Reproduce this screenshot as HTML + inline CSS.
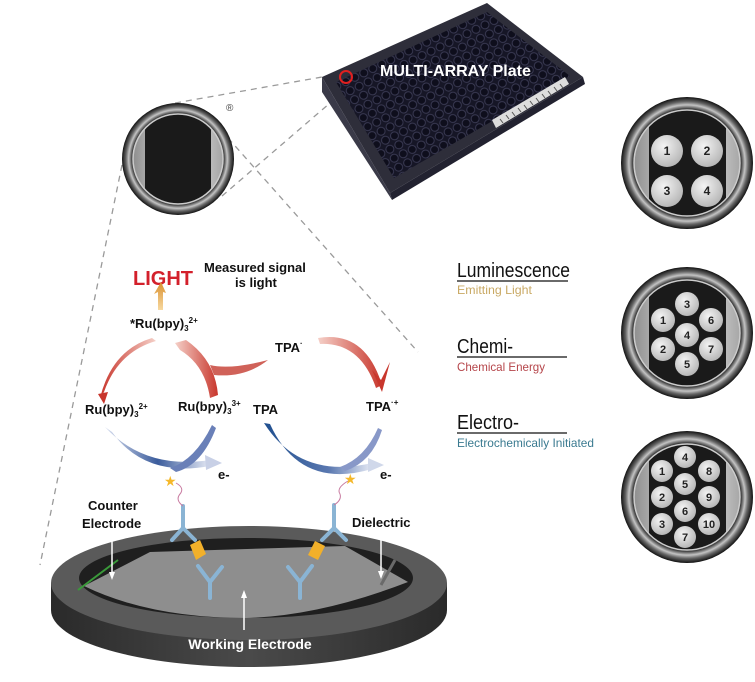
<!DOCTYPE html>
<html><head><meta charset="utf-8"><style>
html,body{margin:0;padding:0;background:#fff;width:755px;height:682px;overflow:hidden}
svg{display:block}
text{font-family:"Liberation Sans",sans-serif}
</style></head><body>
<svg width="755" height="682" viewBox="0 0 755 682">
<defs>
<radialGradient id="rim" cx="50%" cy="50%" r="50%">
<stop offset="0.8" stop-color="#111"/><stop offset="0.88" stop-color="#c4c4c4"/><stop offset="0.93" stop-color="#666"/><stop offset="1" stop-color="#111"/>
</radialGradient>
<linearGradient id="band" x1="0" x2="1"><stop offset="0" stop-color="#888"/><stop offset="0.5" stop-color="#eee"/><stop offset="1" stop-color="#999"/></linearGradient>
<radialGradient id="spot" cx="40%" cy="35%" r="65%"><stop offset="0" stop-color="#f4f4f4"/><stop offset="1" stop-color="#b8b8b8"/></radialGradient>
<linearGradient id="up" x1="0" y1="1" x2="0" y2="0"><stop offset="0" stop-color="#f7d9a0"/><stop offset="1" stop-color="#d9902e"/></linearGradient>
<linearGradient id="rd" x1="0" x2="1"><stop offset="0" stop-color="#f5d0c8"/><stop offset="1" stop-color="#c8362c"/></linearGradient>
<linearGradient id="rd2" x1="1" x2="0"><stop offset="0" stop-color="#f5d0c8"/><stop offset="1" stop-color="#c8362c"/></linearGradient>
<linearGradient id="bl" x1="0" x2="1"><stop offset="0" stop-color="#d8dff0"/><stop offset="0.5" stop-color="#3b5c9c"/><stop offset="1" stop-color="#e6eaf5"/></linearGradient>
<linearGradient id="bl2" x1="0" x2="1"><stop offset="0" stop-color="#1f4f8f"/><stop offset="0.6" stop-color="#5a78b0"/><stop offset="1" stop-color="#e6eaf5"/></linearGradient>
<linearGradient id="side" x1="0" x2="1"><stop offset="0" stop-color="#2a2a2a"/><stop offset="0.5" stop-color="#4a4a4a"/><stop offset="1" stop-color="#2a2a2a"/></linearGradient>
<pattern id="wells" width="10" height="10" patternUnits="userSpaceOnUse" patternTransform="rotate(-26)">
<rect width="10" height="10" fill="#161626"/><circle cx="5" cy="5" r="4" fill="#0e0e1c" stroke="#3c3c56" stroke-width="0.9"/></pattern>
</defs>

<g stroke="#9a9a9a" stroke-width="1.3" stroke-dasharray="6,5" fill="none">
<line x1="175" y1="103" x2="322" y2="77"/>
<line x1="222" y1="196" x2="330" y2="103"/>
<line x1="228" y1="138" x2="418" y2="352"/>
<line x1="122" y1="165" x2="40" y2="565"/>
</g>

<!-- plate -->
<polygon points="322,77 487,3 583,77 390,193" fill="#2e2e3a"/>
<polygon points="336,82 487,12 570,76 394,178" fill="url(#wells)"/>
<polygon points="322,77 390,193 392,200 322,92" fill="#3a3a48"/>
<polygon points="390,193 583,77 585,84 392,200" fill="#222230"/>
<polygon points="492,120 565,77 569,84 496,128" fill="#ddd"/>
<g stroke="#555" stroke-width="1">
<line x1="500" y1="119" x2="503" y2="123"/><line x1="506" y1="115" x2="509" y2="119"/><line x1="512" y1="112" x2="515" y2="116"/><line x1="518" y1="108" x2="521" y2="112"/><line x1="524" y1="105" x2="527" y2="109"/><line x1="530" y1="101" x2="533" y2="105"/><line x1="536" y1="98" x2="539" y2="102"/><line x1="542" y1="94" x2="545" y2="98"/><line x1="548" y1="91" x2="551" y2="95"/><line x1="554" y1="87" x2="557" y2="91"/><line x1="560" y1="84" x2="563" y2="88"/></g>
<circle cx="346" cy="77" r="6" fill="none" stroke="#e02020" stroke-width="2"/>
<text x="380" y="76" fill="#fff" font-size="16" font-weight="bold">MULTI-ARRAY Plate</text>

<circle cx="178" cy="159" r="56" fill="url(#rim)"/>
<clipPath id="c0"><circle cx="178" cy="159" r="45"/></clipPath>
<g clip-path="url(#c0)"><rect x="130" y="110" width="100" height="100" fill="url(#band)"/><rect x="145" y="110" width="66" height="100" fill="#1a1a1a"/></g>
<circle cx="178" cy="159" r="45" fill="none" stroke="#ccc" stroke-width="1.5"/>
<text x="226" y="111" font-size="10" fill="#444">®</text>

<g>
<circle cx="687" cy="163" r="66" fill="url(#rim)"/>
<clipPath id="c1"><circle cx="687" cy="163" r="53"/></clipPath>
<g clip-path="url(#c1)"><rect x="630" y="100" width="120" height="130" fill="url(#band)"/><rect x="649" y="100" width="77" height="130" fill="#1a1a1a"/></g>
<circle cx="687" cy="163" r="53" fill="none" stroke="#ccc" stroke-width="1.5"/>
<g fill="url(#spot)"><circle cx="667" cy="151" r="16"/><circle cx="707" cy="151" r="16"/><circle cx="667" cy="191" r="16"/><circle cx="707" cy="191" r="16"/></g>
<g font-size="12" font-weight="bold" fill="#222" text-anchor="middle"><text x="667" y="155">1</text><text x="707" y="155">2</text><text x="667" y="195">3</text><text x="707" y="195">4</text></g>
</g>
<g>
<circle cx="687" cy="333" r="66" fill="url(#rim)"/>
<clipPath id="c2"><circle cx="687" cy="333" r="53"/></clipPath>
<g clip-path="url(#c2)"><rect x="630" y="270" width="120" height="130" fill="url(#band)"/><rect x="649" y="270" width="77" height="130" fill="#1a1a1a"/></g>
<circle cx="687" cy="333" r="53" fill="none" stroke="#ccc" stroke-width="1.5"/>
<g fill="url(#spot)"><circle cx="687" cy="304" r="12"/><circle cx="663" cy="320" r="12"/><circle cx="711" cy="320" r="12"/><circle cx="687" cy="335" r="12"/><circle cx="663" cy="349" r="12"/><circle cx="711" cy="349" r="12"/><circle cx="687" cy="364" r="12"/></g>
<g font-size="11" font-weight="bold" fill="#222" text-anchor="middle"><text x="687" y="308">3</text><text x="663" y="324">1</text><text x="711" y="324">6</text><text x="687" y="339">4</text><text x="663" y="353">2</text><text x="711" y="353">7</text><text x="687" y="368">5</text></g>
</g>
<g>
<circle cx="687" cy="497" r="66" fill="url(#rim)"/>
<clipPath id="c3"><circle cx="687" cy="497" r="53"/></clipPath>
<g clip-path="url(#c3)"><rect x="630" y="434" width="120" height="130" fill="url(#band)"/><rect x="649" y="434" width="77" height="130" fill="#1a1a1a"/></g>
<circle cx="687" cy="497" r="53" fill="none" stroke="#ccc" stroke-width="1.5"/>
<g fill="url(#spot)"><circle cx="685" cy="457" r="11"/><circle cx="662" cy="471" r="11"/><circle cx="709" cy="471" r="11"/><circle cx="685" cy="484" r="11"/><circle cx="662" cy="497" r="11"/><circle cx="709" cy="497" r="11"/><circle cx="685" cy="511" r="11"/><circle cx="662" cy="524" r="11"/><circle cx="709" cy="524" r="11"/><circle cx="685" cy="537" r="11"/></g>
<g font-size="11" font-weight="bold" fill="#222" text-anchor="middle"><text x="685" y="461">4</text><text x="662" y="475">1</text><text x="709" y="475">8</text><text x="685" y="488">5</text><text x="662" y="501">2</text><text x="709" y="501">9</text><text x="685" y="515">6</text><text x="662" y="528">3</text><text x="709" y="528">10</text><text x="685" y="541">7</text></g>
</g>

<text x="457" y="277" font-size="20" fill="#111" textLength="113" lengthAdjust="spacingAndGlyphs">Luminescence</text>
<line x1="457" y1="281" x2="568" y2="281" stroke="#111" stroke-width="1.2"/>
<text x="457" y="294" font-size="12" fill="#c9a964" textLength="75" lengthAdjust="spacingAndGlyphs">Emitting Light</text>
<text x="457" y="353" font-size="20" fill="#111" textLength="56" lengthAdjust="spacingAndGlyphs">Chemi-</text>
<line x1="457" y1="357" x2="567" y2="357" stroke="#111" stroke-width="1.2"/>
<text x="457" y="371" font-size="12" fill="#b5454a" textLength="88" lengthAdjust="spacingAndGlyphs">Chemical Energy</text>
<text x="457" y="429" font-size="20" fill="#111" textLength="62" lengthAdjust="spacingAndGlyphs">Electro-</text>
<line x1="457" y1="433" x2="567" y2="433" stroke="#111" stroke-width="1.2"/>
<text x="457" y="447" font-size="12" fill="#3a7a90" textLength="137" lengthAdjust="spacingAndGlyphs">Electrochemically Initiated</text>

<text x="133" y="285" font-size="20" font-weight="bold" fill="#d3202b">LIGHT</text>
<text x="204" y="272" font-size="13" font-weight="bold" fill="#111">Measured signal</text>
<text x="235" y="287" font-size="13" font-weight="bold" fill="#111">is light</text>
<path d="M158,310 L158,292 L154,294 L161,282 L166,293 L163,292 L163,310 Z" fill="url(#up)"/>

<g font-size="13" font-weight="bold" fill="#111">
<text x="130" y="328">*Ru(bpy)<tspan font-size="8" dy="3">3</tspan><tspan font-size="8" dy="-8">2+</tspan></text>
<text x="85" y="414">Ru(bpy)<tspan font-size="8" dy="3">3</tspan><tspan font-size="8" dy="-8">2+</tspan></text>
<text x="178" y="411">Ru(bpy)<tspan font-size="8" dy="3">3</tspan><tspan font-size="8" dy="-8">3+</tspan></text>
<text x="253" y="414">TPA</text>
<text x="366" y="411">TPA<tspan font-size="8" dy="-6">·+</tspan></text>
<text x="275" y="352">TPA<tspan font-size="8" dy="-6">·</tspan></text>
<text x="218" y="479">e-</text>
<text x="380" y="479">e-</text>
</g>

<path d="M152,338 Q112,350 100,398 L104,392 Q118,352 156,341 Z" fill="url(#rd2)"/>
<path d="M98,394 L104,404 L108,392 Z" fill="#c8362c"/>
<path d="M175,343 L186,340 Q215,360 218,395 L210,398 Q205,365 180,350 Z" fill="url(#rd)"/>
<path d="M268,360 Q230,370 210,365 L214,375 Q245,378 268,360 Z" fill="#c8463c" opacity="0.85"/>
<path d="M318,338 Q365,330 382,385 L376,388 Q360,342 320,344 Z" fill="url(#rd)"/>
<path d="M372,370 L382,392 L390,362 L381,380 Z" fill="#c8362c"/>
<path d="M105,427 Q145,470 210,460 L210,466 Q145,478 112,432 Z" fill="url(#bl)"/>
<path d="M205,455 L222,463 L206,470 Z" fill="#c8d0e6"/>
<path d="M212,425 Q195,460 170,468 L176,472 Q202,465 216,428 Z" fill="#6a80b8"/>
<path d="M264,423 Q300,480 372,463 L372,469 Q300,490 270,424 Z" fill="url(#bl2)"/>
<path d="M368,458 L384,465 L368,472 Z" fill="#d0d8ea"/>
<path d="M378,428 Q365,458 340,467 L345,471 Q372,462 382,430 Z" fill="#8898c8"/>

<!-- dish -->
<path d="M51,583 L51,610 A198,57 0 0 0 447,610 L447,583 Z" fill="url(#side)"/>
<ellipse cx="249" cy="583" rx="198" ry="57" fill="#5a5a5a"/>
<ellipse cx="246" cy="578" rx="167" ry="40" fill="#1f1f1f"/>
<path d="M84,586 L150,552 L345,546 L408,582 Q320,616 246,618 Q150,618 84,586 Z" fill="#8e8e8e"/>
<line x1="78" y1="590" x2="118" y2="560" stroke="#3a9a3a" stroke-width="2"/>
<line x1="381" y1="585" x2="395" y2="560" stroke="#6a6a6a" stroke-width="3"/>

<g stroke="#8ab4d4" stroke-width="4" fill="none" stroke-linecap="round">
<path d="M210,598 L210,582 L198,566 M210,582 L222,567"/>
<path d="M300,598 L300,582 L288,567 M300,582 L312,566"/>
<path d="M183,506 L183,528 L172,540 M183,528 L195,540"/>
<path d="M334,505 L334,528 L322,540 M334,528 L346,540"/>
</g>
<path d="M190,545 L200,540 L206,554 L196,560 Z" fill="#f2b02a"/>
<path d="M325,546 L315,541 L308,555 L318,560 Z" fill="#f2b02a"/>
<path d="M183,506 Q175,500 180,494 Q185,488 176,483" stroke="#c87aa0" stroke-width="1" fill="none"/>
<path d="M334,505 Q342,500 340,494 Q336,488 348,481" stroke="#c87aa0" stroke-width="1" fill="none"/>
<text x="164" y="486" font-size="14" fill="#f5b82a">★</text>
<text x="344" y="484" font-size="14" fill="#f5b82a">★</text>

<g font-size="13" font-weight="bold" fill="#111">
<text x="88" y="510">Counter</text>
<text x="82" y="528">Electrode</text>
<text x="352" y="527">Dielectric</text>
</g>
<g stroke="#fff" stroke-width="1.5"><line x1="112" y1="532" x2="112" y2="576"/><line x1="381" y1="533" x2="381" y2="575"/><line x1="244" y1="630" x2="244" y2="596"/></g>
<path d="M109,572 L112,580 L115,572 Z M378,571 L381,579 L384,571 Z M241,598 L244,590 L247,598 Z" fill="#fff"/>
<text x="250" y="649" font-size="14" font-weight="bold" fill="#fff" text-anchor="middle">Working Electrode</text>
</svg>
</body></html>
